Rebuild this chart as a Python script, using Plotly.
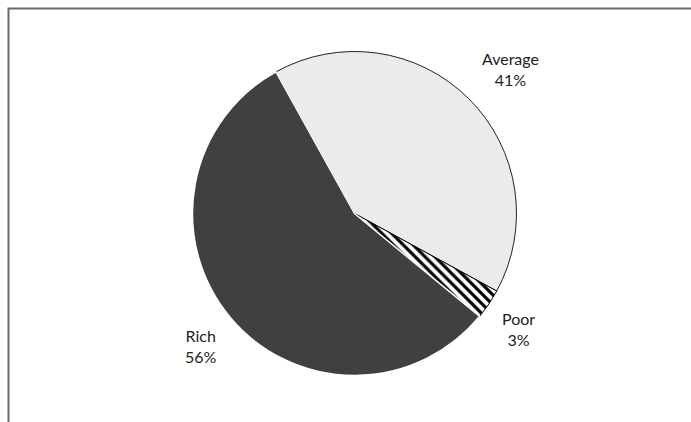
import plotly.graph_objects as go

labels = ["Average", "Poor", "Rich"]
values = [41, 3, 56]
colors = ["#ebebeb", "#ffffff", "#404040"]
label_pos = [(510, 69), (518, 329), (201, 346)]

W, H = 691, 422
cx, cy, r = 354.5, 213.5, 162

fig = go.Figure(go.Pie(
    labels=labels, values=values, sort=False, direction="clockwise",
    rotation=-29, textinfo="none", hoverinfo="label+percent",
    marker=dict(colors=colors,
                line=dict(color=["#222", "#000", "#ffffff"], width=[1, 1, 1.5]),
                pattern=dict(shape=["", "\\", ""], fgcolor="#000", bgcolor="#fff",
                             size=7, solidity=0.45)),
    domain=dict(x=[(cx - r) / W, (cx + r) / W], y=[1 - (cy + r) / H, 1 - (cy - r) / H]),
    showlegend=False,
))

total = sum(values)
annotations = []
for lab, v, (px, py) in zip(labels, values, label_pos):
    annotations.append(dict(
        x=px / W, y=1 - py / H, xref="paper", yref="paper",
        xanchor="center", yanchor="middle",
        text=f"{lab}<br>{round(100 * v / total)}%", showarrow=False,
        font=dict(family="Lato", size=16, color="#222"), align="center",
    ))

fig.update_layout(
    width=W, height=H, margin=dict(l=0, r=0, t=0, b=0),
    paper_bgcolor="white", plot_bgcolor="white",
    annotations=annotations,
    shapes=[dict(type="rect", xref="paper", yref="paper",
                 x0=8.5 / W, x1=1.05, y0=-0.05, y1=1 - 8.5 / H,
                 line=dict(color="#6b6b6b", width=2), fillcolor="rgba(0,0,0,0)")],
)

fig.write_html("out.html")
